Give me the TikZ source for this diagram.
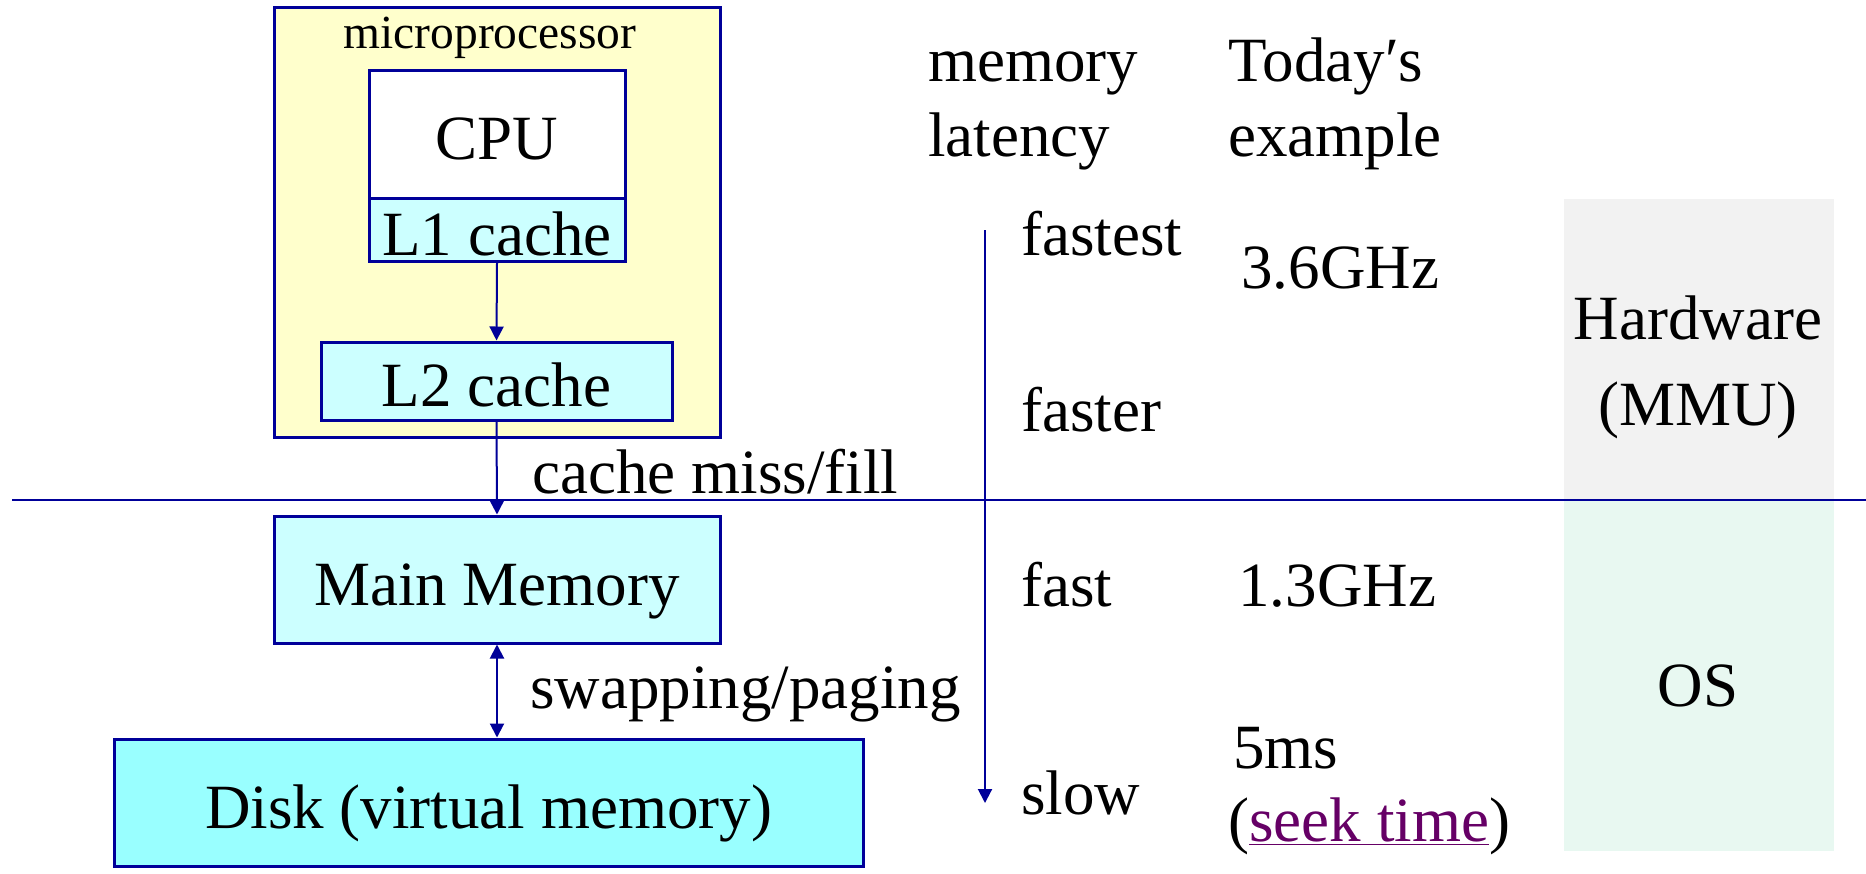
\documentclass[tikz,border=0pt]{standalone}
\usepackage{fontspec}
\setmainfont{Liberation Serif}
\usetikzlibrary{arrows.meta}
\definecolor{bord}{HTML}{000099}
\definecolor{yelfill}{HTML}{FFFFCC}
\definecolor{cyanL}{HTML}{CCFFFF}
\definecolor{cyanD}{HTML}{99FFFF}
\definecolor{grayband}{HTML}{F2F2F2}
\definecolor{greenband}{HTML}{E8F8F1}
\definecolor{seekcol}{HTML}{660066}
\newcommand{\bigtxt}{\fontsize{31.5}{37.8}\selectfont}
\newcommand{\smalltxt}{\fontsize{23.75}{28.5}\selectfont}
\begin{document}
\begin{tikzpicture}[x=0.5pt,y=-0.5pt,
  box/.style={draw=bord, line width=1.5pt, inner sep=0pt, font=\bigtxt, text height=25.5pt, text depth=0pt},
  conn/.style={draw=bord, line width=1pt, -{Triangle[width=7pt,length=7pt]}},
  dconn/.style={draw=bord, line width=1pt, {Triangle[width=7pt,length=7pt]}-{Triangle[width=7pt,length=7pt]}},
  lbl/.style={font=\bigtxt, inner sep=0pt, anchor=base west},
  clbl/.style={font=\bigtxt, inner sep=0pt, anchor=base, align=center}]
\useasboundingbox (0,0) rectangle (1866,873);
\fill[white] (0,0) rectangle (1866,873);
% bands
\fill[grayband] (1564,199) rectangle (1834,500);
\fill[greenband] (1564,500) rectangle (1834,851);
% microprocessor
\node[box, fill=yelfill, minimum width=223pt, minimum height=215pt] (micro) at (497,222) {};
\node[font=\smalltxt, inner sep=0pt, anchor=base] (microlbl) at (490,48) {microprocessor};
\node[box, fill=white, minimum width=128pt, minimum height=64pt] (cpu) at (497,134) {CPU};
\node[box, fill=cyanL, minimum width=128pt, minimum height=31.5pt] (l1) at (497,229.5) {L1 cache};
\node[box, fill=cyanL, minimum width=175.5pt, minimum height=39pt] (l2) at (496.5,381) {L2 cache};
\node[box, fill=cyanL, minimum width=223pt, minimum height=63.5pt] (mm) at (497,579.5) {Main Memory};
\node[box, fill=cyanD, minimum width=374.5pt, minimum height=63.5pt] (disk) at (488.5,802.5) {Disk (virtual memory)};
% divider line
\coordinate (hl) at (12,500);
\coordinate (hr) at (1866,500);
\draw[bord, line width=1pt] (hl) -- (hr);
% connectors
\draw[conn] (l1.south) -- (l2.north);
\draw[conn] (l2.south) -- (mm.north);
\draw[dconn] (mm.south) -- (mm.south |- disk.north);
\node[lbl] (miss) at (532,493) {cache miss/fill};
\node[lbl] (swap) at (530,708) {swapping/paging};
% latency arrow
\coordinate (lat1) at (985,230);
\coordinate (lat2) at (985,803);
\draw[conn] (lat1) -- (lat2);
\node[lbl] (mem) at (928,81) {memory};
\node[lbl] (lat) at (928,156) {latency};
\node[lbl] (today) at (1228,81) {Today′s};
\node[lbl] (ex) at (1228,156) {example};
\node[lbl] (fastest) at (1021,255) {fastest};
\node[lbl] (faster) at (1021,431) {faster};
\node[lbl] (fast) at (1021,606) {fast};
\node[lbl] (slow) at (1021,814) {slow};
\node[lbl] (g36) at (1241,288) {3.6GHz};
\node[lbl] (g13) at (1238,606) {1.3GHz};
\node[lbl] (ms5) at (1233,768) {5ms};
\node[lbl] (seek) at (1228,841) {(\textcolor{seekcol}{\underline{seek time}})};
\node[clbl] (hw) at (1698,339) {Hardware};
\node[clbl] (mmu) at (1698,425) {(MMU)};
\node[clbl] (os) at (1698,706) {OS};
\end{tikzpicture}
\end{document}
